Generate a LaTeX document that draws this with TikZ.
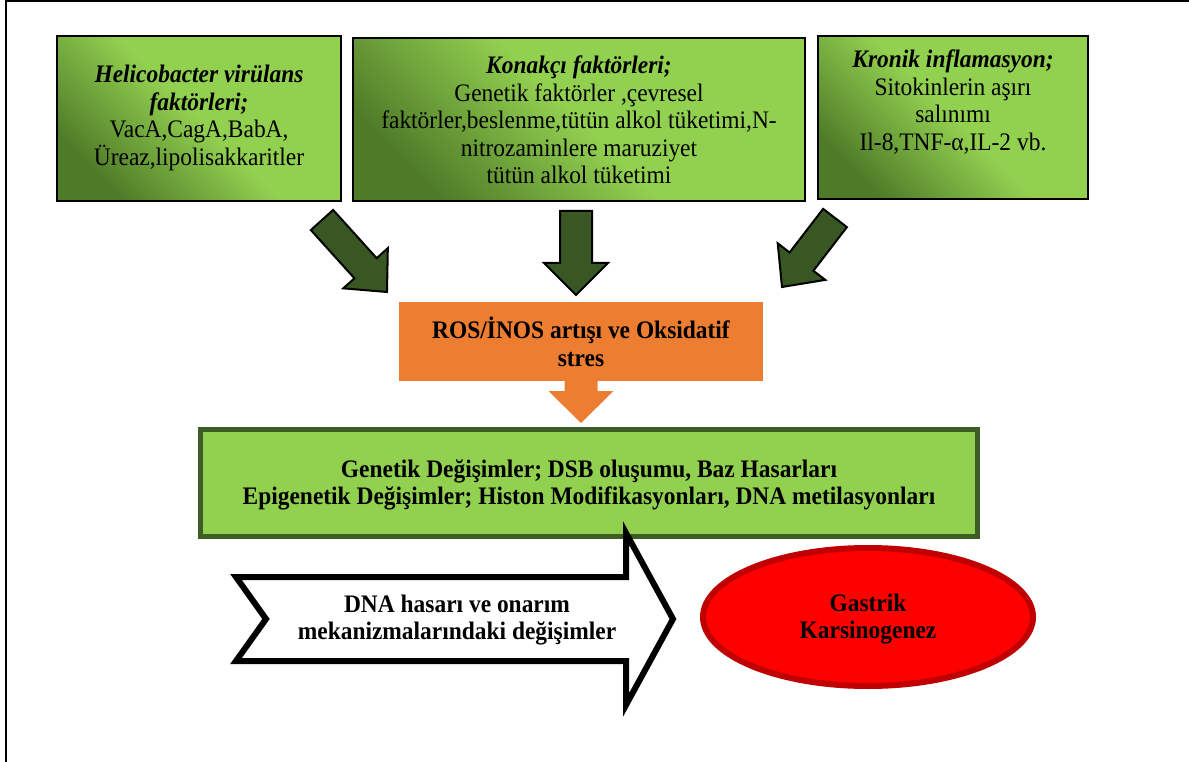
\documentclass[tikz,border=0pt]{standalone}
\usepackage{fontspec}
\setmainfont{Liberation Serif}[FakeStretch=0.93]
\usetikzlibrary{calc,shapes.geometric}
\definecolor{glight}{HTML}{92D050}
\definecolor{gdark}{HTML}{4F7B28}
\definecolor{garrow}{HTML}{385723}
\definecolor{gborder}{HTML}{3D5C26}
\definecolor{orng}{HTML}{ED7D31}
\definecolor{redfill}{HTML}{FF0000}
\definecolor{redborder}{HTML}{C00000}
\newcommand{\blkarrow}[6]{%
  \coordinate (#1base) at ($(#2)!#5!(#1)$);
  \path[#6] ($(#1)!#3!90:(#2)$) -- ($(#1base)!#3!-90:(#1)$) -- ($(#1base)!#4!-90:(#1)$) -- (#2)
    -- ($(#1base)!#4!90:(#1)$) -- ($(#1base)!#3!90:(#1)$) -- ($(#1)!#3!-90:(#2)$) -- cycle;}
\begin{document}
\begin{tikzpicture}[x=1pt,y=-1pt,
  txt/.style={font=\fontsize{25.2}{27.5}\selectfont, align=center, text=black, inner sep=0pt},
  btxt/.style={txt, font=\fontsize{25.2}{27.5}\selectfont\bfseries},
  topbox/.style={rectangle, draw=black, line width=2.5pt, inner sep=0pt,
    top color=glight, bottom color=gdark, middle color=glight, shading angle=-45},
  greenarrow/.style={fill=garrow, draw=black, line width=2pt, line join=miter},
  orangearrow/.style={fill=orng, draw=none},
  rosbox/.style={rectangle, fill=orng, draw=none, inner sep=0pt},
  genbox/.style={rectangle, fill=glight, draw=gborder, line width=5pt, inner sep=0pt},
  whitearrow/.style={fill=white, draw=black, line width=6pt, line join=miter},
  redoval/.style={ellipse, fill=redfill, draw=redborder, line width=6pt, inner sep=0pt},
  frameline/.style={draw=black, line width=2.5pt}
]
\useasboundingbox (0,0) rectangle (1189,762);
\draw[frameline] (6.2,762) -- (6.2,1.2) -- (1189,1.2);

% top boxes
\node[topbox, minimum width=284pt, minimum height=165pt] (b1) at (199,118.5) {};
\node[topbox, minimum width=452pt, minimum height=163pt] (b2) at (579,119.5) {};
\node[topbox, minimum width=270pt, minimum height=163pt] (b3) at (953,117.5) {};
\node[txt] (t1) at (199,118) {\textbf{\textit{Helicobacter virülans}}\\\textbf{\textit{faktörleri;}}\\VacA,CagA,BabA,\\Üreaz,lipolisakkaritler};
\node[txt] (t2) at (579,120) {\textbf{\textit{Konakçı faktörleri;}}\\Genetik faktörler ,çevresel\\faktörler,beslenme,tütün alkol tüketimi,N-\\nitrozaminlere maruziyet\\tütün alkol tüketimi};
\node[txt] (t3) at (953,102) {\textbf{\textit{Kronik inflamasyon;}}\\Sitokinlerin aşırı\\salınımı\\Il-8,TNF-α,IL-2 vb.};

% green block arrows
\coordinate (a1s) at (322,220); \coordinate (a1e) at (387,292);
\coordinate (a2s) at (576,211); \coordinate (a2e) at (576,295);
\coordinate (a3s) at (835,218); \coordinate (a3e) at (782,287);
\blkarrow{a1s}{a1e}{15pt}{30pt}{32pt}{greenarrow}
\blkarrow{a2s}{a2e}{16pt}{32pt}{32pt}{greenarrow}
\blkarrow{a3s}{a3e}{15pt}{30pt}{32pt}{greenarrow}

% orange box and arrow
\node[rosbox, minimum width=364pt, minimum height=79pt] (ros) at (581,341.5) {};
\node[btxt] (rost) at (581,342) {ROS/İNOS artışı ve Oksidatif\\stres};
\coordinate (o1s) at (581,380); \coordinate (o1e) at (581,423);
\blkarrow{o1s}{o1e}{16.5pt}{32.5pt}{32pt}{orangearrow}

% genetic box
\node[genbox, minimum width=777pt, minimum height=107pt] (gen) at (589,483) {};
\node[btxt] (gent) at (589,485) {Genetik Değişimler; DSB oluşumu, Baz Hasarları\\Epigenetik Değişimler; Histon Modifikasyonları, DNA metilasyonları};

% ellipse
\node[redoval, minimum width=330pt, minimum height=138pt] (gk) at (868,617) {};
\node[btxt] (gkt) at (868,619) {Gastrik\\Karsinogenez};

% white block arrow
\path[whitearrow] (236,577) -- (626,577) -- (626,533) -- (673,619) -- (626,705)
  -- (626,661) -- (236,661) -- (266,619) -- cycle;
\node[btxt] (dna) at (457,620) {DNA hasarı ve onarım\\mekanizmalarındaki değişimler};
\end{tikzpicture}
\end{document}
